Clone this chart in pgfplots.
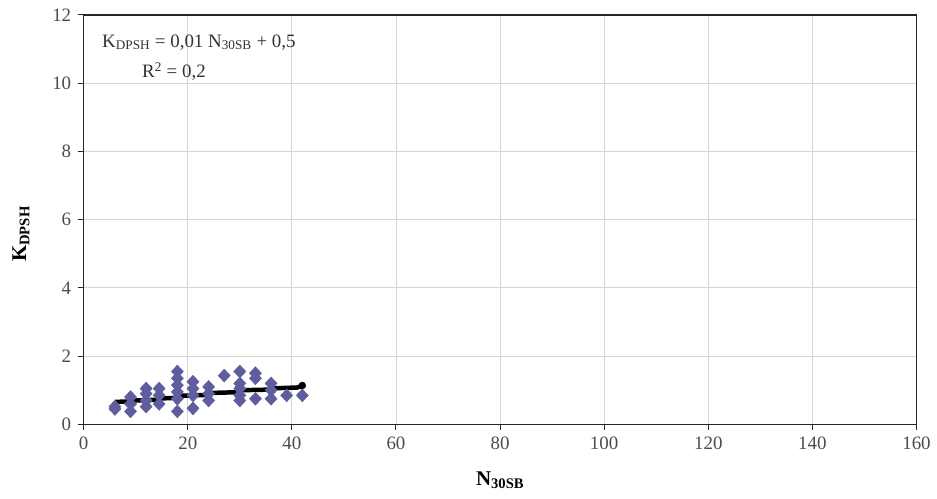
\documentclass[border=0pt]{standalone}
\usepackage{pgfplots}
\pgfplotsset{compat=1.18}
\usepackage{fontspec}
\setmainfont{Liberation Serif}
\definecolor{pts}{HTML}{5E5E9E}
\begin{document}
\fontsize{19}{23}\selectfont
\begin{tikzpicture}
\begin{axis}[
 width=836pt, height=411pt, scale only axis,
 xmin=0, xmax=160, ymin=0, ymax=12,
 xtick={0,20,...,160}, ytick={0,2,...,12},
 xtick pos=bottom, ytick pos=left,
 grid=major, grid style={gray!32, line width=0.9pt},
 axis line style={black!85, line width=1.4pt},
 tick align=outside, tick style={black!85, line width=1pt}, major tick length=6pt,
 /pgf/number format/assume math mode=true,
 ticklabel style={font=\fontsize{19}{23}\selectfont, text=black!70},
 xlabel={\textbf{N\textsubscript{30SB}}}, ylabel={\textbf{K\textsubscript{DPSH}}},
 label style={font=\fontsize{21}{25}\selectfont},
 xlabel style={yshift=-9pt},
 ylabel style={at={(ticklabel cs:0.465)}, yshift=10pt},
]
\addplot[only marks, mark=diamond*, mark size=6.5pt, mark options={fill=pts, draw=pts, xscale=1.25}] coordinates {
(6,0.45)(6,0.52)
(9,0.8)(9,0.6)(9,0.38)
(12,1.05)(12,0.9)(12,0.7)(12,0.52)
(14.5,1.05)(14.5,0.85)(14.5,0.6)
(18,1.55)(18,1.35)(18,1.15)(18,0.95)(18,0.75)(18,0.38)
(21,1.25)(21,1.05)(21,0.85)(21,0.47)
(24,1.1)(24,0.9)(24,0.7)
(27,1.43)
(30,1.55)(30,1.2)(30,1.05)(30,0.85)(30,0.7)
(33,1.5)(33,1.35)(33,0.75)
(36,1.2)(36,1.0)(36,0.75)
(39,0.85)
(42,0.85)
};
\addplot[black, line width=4.5pt] coordinates {
(6,0.66)(9,0.67)(10,0.70)(14,0.72)(15,0.76)(18,0.78)(19,0.84)(23,0.86)(24,0.92)(29,0.94)(30,1.0)(36,1.02)(37,1.06)(41,1.08)(42,1.13)
};
\addplot[only marks, mark=*, mark size=3.5pt, black] coordinates {(42,1.14)};
\node[anchor=west, text=black!80] at (axis cs:2.3,11.2) {K\textsubscript{DPSH} = 0,01 N\textsubscript{30SB} + 0,5};
\node[anchor=west, text=black!80] at (axis cs:10,10.35) {R\textsuperscript{2} = 0,2};
\end{axis}
\path ([xshift=-84pt,yshift=-74pt]current axis.south west) rectangle ([xshift=17pt,yshift=15pt]current axis.north east);
\end{tikzpicture}
\end{document}
